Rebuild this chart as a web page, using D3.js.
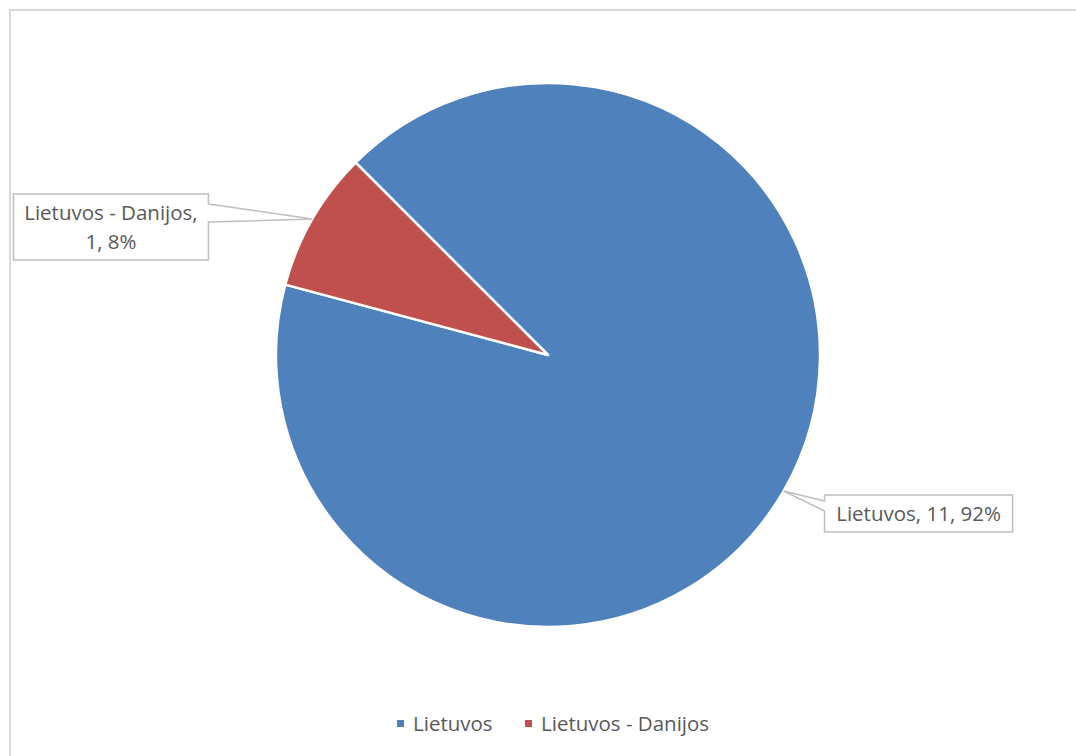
<!DOCTYPE html>
<html>
<head>
<meta charset="utf-8">
<script src="https://cdn.jsdelivr.net/npm/d3@7"></script>
<style>
  html, body { margin: 0; padding: 0; background: #ffffff; }
  svg { display: block; }
  text { font-family: "Open Sans", "Noto Sans", sans-serif; fill: #595959; }
</style>
</head>
<body>
<svg id="chart" width="1076" height="756"></svg>
<script>
// Data
var Categories = ["Lietuvos", "Lietuvos - Danijos"];
var Values = [11, 1];
var Percents = ["92%", "8%"];
var Colors = ["#4f81bd", "#c0504d"];

var Width = 1076, Height = 756;
var Svg = d3.select("#chart");

// Chart area border (runs off the right/bottom of the window)
Svg.append("rect")
    .attr("x", 10).attr("y", 10)
    .attr("width", Width + 20).attr("height", Height + 20)
    .attr("fill", "#ffffff")
    .attr("stroke", "#d9d9d9").attr("stroke-width", 2);

var Cx = 548, Cy = 355, Radius = 272;
var FontSize = 20.5;

// Pie starts at -45deg, first slice clockwise
var Pie = d3.pie().sort(null)
    .startAngle(-Math.PI / 4).endAngle(2 * Math.PI - Math.PI / 4)
    .value((D) => D);
var Arcs = Pie(Values);
var Arc = d3.arc().innerRadius(0).outerRadius(Radius);

var PieLayer = Svg.append("g").attr("transform", `translate(${Cx},${Cy})`);
PieLayer.selectAll("path").data(Arcs).join("path")
    .attr("d", Arc)
    .attr("fill", (D, I) => Colors[I])
    .attr("stroke", "#ffffff").attr("stroke-width", 2.5)
    .attr("stroke-linejoin", "round");

// Data label callouts
var Labels = [
    { Lines: [Categories[0] + ", " + Values[0] + ", " + Percents[0]], W: 188, H: 37, Side: "left", P1: 6, P2: 16 },
    { Lines: [Categories[1] + ",", Values[1] + ", " + Percents[1]], W: 195, H: 66, Side: "right", P1: 10, P2: 28 }
];
var LabelLayer = Svg.append("g");
Arcs.forEach((D, I) => {
    var L = Labels[I];
    var Mid = (D.startAngle + D.endAngle) / 2;
    var Ax = Cx + Radius * Math.sin(Mid), Ay = Cy - Radius * Math.cos(Mid);
    // box top-left relative to anchor
    var Bx = L.Side == "left" ? Ax + 41 : Ax - 104 - L.W;
    var By = L.Side == "left" ? Ay + 4 : Ay - 25;
    var Path = d3.path();
    if (L.Side == "left") {
        Path.moveTo(Bx, By);
        Path.lineTo(Bx + L.W, By);
        Path.lineTo(Bx + L.W, By + L.H);
        Path.lineTo(Bx, By + L.H);
        Path.lineTo(Bx, By + L.P2);
        Path.lineTo(Ax, Ay);
        Path.lineTo(Bx, By + L.P1);
        Path.closePath();
    } else {
        Path.moveTo(Bx, By);
        Path.lineTo(Bx + L.W, By);
        Path.lineTo(Bx + L.W, By + L.P1);
        Path.lineTo(Ax, Ay);
        Path.lineTo(Bx + L.W, By + L.P2);
        Path.lineTo(Bx + L.W, By + L.H);
        Path.lineTo(Bx, By + L.H);
        Path.closePath();
    }
    LabelLayer.append("path")
        .attr("d", Path.toString())
        .attr("fill", "#ffffff")
        .attr("stroke", "#bfbfbf").attr("stroke-width", 1.5);
    var Text = LabelLayer.append("text")
        .attr("text-anchor", "middle")
        .attr("font-size", FontSize);
    var LineH = 29;
    var Top = By + L.H / 2 - (L.Lines.length - 1) * LineH / 2 + 7;
    L.Lines.forEach((Line, J) => {
        Text.append("tspan").attr("x", Bx + L.W / 2).attr("y", Top + J * LineH).text(Line);
    });
});

// Legend
var Legend = Svg.append("g").attr("transform", "translate(397,723)");
var Offsets = [0, 128];
Categories.forEach((Name, I) => {
    var G = Legend.append("g").attr("transform", `translate(${Offsets[I]},0)`);
    G.append("rect").attr("x", 0).attr("y", -3).attr("width", 7).attr("height", 7).attr("fill", Colors[I]);
    G.append("text").attr("x", 16).attr("y", 8).attr("font-size", FontSize).text(Name);
});
</script>
</body>
</html>
